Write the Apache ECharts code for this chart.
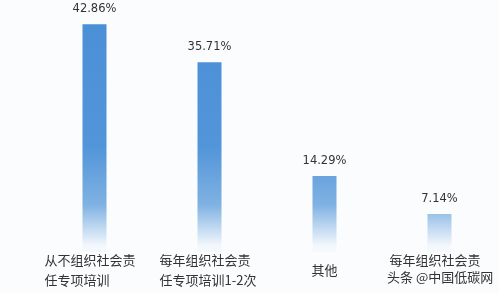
<!DOCTYPE html>
<html><head><meta charset="utf-8">
<script src="https://cdn.jsdelivr.net/npm/echarts@6/dist/echarts.min.js"></script>
<style>html,body{margin:0;padding:0;background:#fbfcfd;}#c{width:499px;height:293px;}</style>
</head><body><div id="c"></div>
<script>
var categories = ['从不组织社会责\n任专项培训', '每年组织社会责\n任专项培训1-2次', '其他', '每年组织社会责\n任专项培训3次以上'];
var shownLabels = ['从不组织社会责\n任专项培训', '每年组织社会责\n任专项培训1-2次', '其他', '每年组织社会责'];
var values = [42.86, 35.71, 14.29, 7.14];
var watermark = '头条 @中国低碳网';

var chart = echarts.init(document.getElementById('c'));
chart.setOption({
  backgroundColor: '#fbfcfd',
  animation: false,
  grid: {left: 37, right: 2, top: 13, bottom: 41},
  xAxis: {
    type: 'category', data: categories,
    axisLine: {show: false}, axisTick: {show: false},
    axisLabel: {
      margin: -2, interval: 0, verticalAlign: 'top',
      fontFamily: 'Noto Sans CJK SC', color: '#333',
      formatter: function (v, i) {
        var lines = shownLabels[i].split('\n');
        var key = shownLabels[i].length > 3 ? 'a' : 'b';
        return lines.map(function (l) { return '{' + key + '|' + l + '}'; }).join('\n');
      },
      rich: {
        a: {width: 100, align: 'left', fontSize: 13, lineHeight: 20, color: '#333', fontFamily: 'Noto Sans CJK SC'},
        b: {fontSize: 13, lineHeight: 40, color: '#333', fontFamily: 'Noto Sans CJK SC'}
      }
    }
  },
  yAxis: {type: 'value', min: 0, max: 45, show: false, splitLine: {show: false}},
  series: [{
    type: 'bar', data: values, barWidth: 24,
    itemStyle: {
      color: {type: 'linear', x: 0, y: 0, x2: 0, y2: 293, global: true,
        colorStops: [
          {offset: 0, color: '#4a8ed7'},
          {offset: 0.5, color: '#5295d9'},
          {offset: 0.7, color: '#80b2e3'},
          {offset: 0.84, color: '#f4f8fc'},
          {offset: 1, color: '#ffffff'}
        ]}
    },
    label: {show: true, position: 'top', distance: 9, fontSize: 11.5, color: '#333', fontFamily: 'DejaVu Sans',
      formatter: function (p) { return p.value.toFixed(2) + '%'; }}
  }],
  graphic: [{type: 'text', left: 387, top: 271,
    style: {text: watermark, fontSize: 13, fill: '#333', fontFamily: 'Noto Sans CJK SC'}}]
});
</script></body></html>
